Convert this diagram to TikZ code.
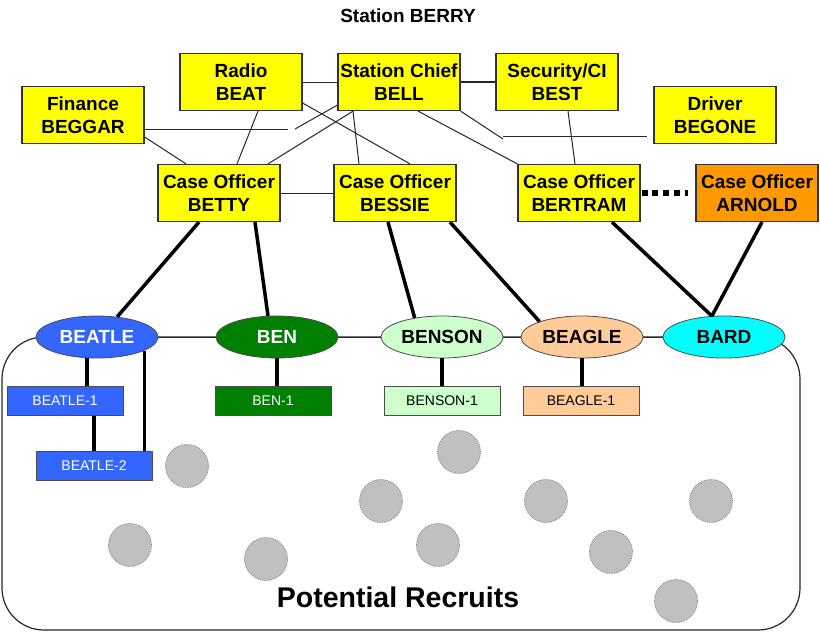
\documentclass[tikz,border=0pt]{standalone}
\usepackage{fontspec}
\setmainfont{Liberation Sans}
\definecolor{officeyellow}{RGB}{255,255,0}
\definecolor{arnoldorange}{RGB}{255,153,0}
\definecolor{beatleblue}{RGB}{51,102,255}
\definecolor{bengreen}{RGB}{0,128,0}
\definecolor{bensongreen}{RGB}{204,255,204}
\definecolor{beaglepeach}{RGB}{255,204,153}
\definecolor{bardcyan}{RGB}{0,255,255}
\definecolor{recruitgray}{RGB}{192,192,192}
\tikzset{
  officebox/.style={shape=rectangle,draw=black!80,line width=1.2pt,fill=officeyellow,
    minimum width=122pt,minimum height=57pt,inner sep=0pt,align=center,
    font=\fontsize{19}{23}\selectfont\bfseries},
  agent/.style={shape=ellipse,draw=black!70,line width=0.8pt,
    minimum width=122pt,minimum height=42pt,inner sep=0pt,
    font=\fontsize{19}{21}\selectfont\bfseries},
  subagent/.style={shape=rectangle,draw=black!70,line width=0.8pt,
    minimum width=116pt,minimum height=29pt,inner sep=0pt,
    font=\fontsize{14}{16}\selectfont},
  recruit/.style={shape=circle,draw=gray,densely dotted,line width=0.8pt,
    fill=recruitgray,minimum size=43pt,inner sep=0pt},
  thinlink/.style={draw=black!85,line width=1pt},
  thicklink/.style={draw=black,line width=3.5pt}
}
\usetikzlibrary{shapes.geometric}
\begin{document}
\begin{tikzpicture}[x=1pt,y=-1pt]
\useasboundingbox (0,0) rectangle (820,632);
\fill[white] (0,0) rectangle (820,632);
% pool of recruits
\draw[black!85,line width=1.2pt,rounded corners=42pt] (2,337) rectangle (800,630);

\node (title) at (408,16) [font=\fontsize{19}{21}\selectfont\bfseries] {Station BERRY};

\node (radio) at (241,82) [officebox] {Radio\\BEAT};
\node (bell) at (399,82) [officebox] {Station Chief\\BELL};
\node (best) at (557,82) [officebox] {Security/CI\\BEST};
\node (beggar) at (83,115) [officebox] {Finance\\BEGGAR};
\node (begone) at (715,115) [officebox] {Driver\\BEGONE};
\node (betty) at (219,193) [officebox] {Case Officer\\BETTY};
\node (bessie) at (395,193) [officebox] {Case Officer\\BESSIE};
\node (bertram) at (579,193) [officebox] {Case Officer\\BERTRAM};
\node (arnold) at (757,193) [officebox,fill=arnoldorange] {Case Officer\\ARNOLD};

\coordinate (fa) at (288,129);
\coordinate (fb) at (295,129);
\coordinate (dk) at (503,139);
\coordinate (dl) at (503,136);
\coordinate (dr) at (647,136);

\draw[thinlink] (radio)--(bell);
\draw[thinlink,line width=1.6pt] (bell)--(best);
\draw[thinlink] ([yshift=-14pt]beggar.east)--(fa);
\draw[thinlink] (fb)--([yshift=6pt]bell.south west);
\draw[thinlink] ([yshift=-22pt]beggar.east)--([xshift=-33pt]betty.north);
\draw[thinlink] ([xshift=17pt]radio.south)--([xshift=18pt]betty.north);
\draw[thinlink] ([xshift=-46pt]bell.south)--([xshift=49pt]betty.north);
\draw[thinlink] ([xshift=-46pt]bell.south)--([xshift=-36pt]bessie.north);
\draw[thinlink] ([yshift=-21pt]radio.east)--([xshift=15pt]bessie.north);
\draw[thinlink] ([xshift=19pt]bell.south)--(bertram.north west);
\draw[thinlink] (bell.south east)--(dk);
\draw[thinlink] (dl)--(dr);
\draw[thinlink] ([xshift=11pt]best.south)--([xshift=-4pt]bertram.north);
\draw[thinlink] (betty)--(bessie);
\draw[line width=6pt,dash pattern=on 6pt off 4.75pt,shorten <=1pt,shorten >=7pt] (bertram)--(arnold);

\node (beatle) at (97,337) [agent,fill=beatleblue,text=white] {BEATLE};
\node (ben) at (277,337) [agent,fill=bengreen,text=white] {BEN};
\node (benson) at (442,337) [agent,fill=bensongreen] {BENSON};
\node (beagle) at (582,337) [agent,fill=beaglepeach] {BEAGLE};
\node (bard) at (724,337) [agent,fill=bardcyan] {BARD};

\draw[thinlink] (beatle)--(ben);
\draw[thinlink] (ben)--(benson);
\draw[thinlink] (benson)--(beagle);
\draw[thinlink] (beagle)--(bard);

\draw[thicklink] ([xshift=-20pt]betty.south)--(beatle.45);
\draw[thicklink] ([xshift=36pt]betty.south)--(ben.113);
\draw[thicklink] ([xshift=-7pt]bessie.south)--(benson.145);
\draw[thicklink] ([xshift=55pt]bessie.south)--(beagle.160);
\draw[thicklink] ([xshift=33pt]bertram.south)--(bard.120);
\draw[thicklink] ([xshift=5pt]arnold.south)--(bard.120);

\node (beatle1) at (65,401) [subagent,fill=beatleblue,text=white] {BEATLE-1};
\node (beatle2) at (94,466) [subagent,fill=beatleblue,text=white] {BEATLE-2};
\node (ben1) at (273,401) [subagent,fill=bengreen,text=white] {BEN-1};
\node (benson1) at (442,401) [subagent,fill=bensongreen] {BENSON-1};
\node (beagle1) at (581,401) [subagent,fill=beaglepeach] {BEAGLE-1};

\draw[thicklink] ([xshift=-10pt]beatle.south)--([xshift=22pt]beatle1.north);
\draw[thicklink] (beatle2.north |- beatle1.south)--(beatle2.north);
\draw[thicklink] (beatle.-16)--(beatle.-16 |- beatle2.north);
\draw[thicklink] (ben.south)--(ben.south |- ben1.north);
\draw[thicklink] (benson.south)--(benson.south |- benson1.north);
\draw[thicklink] (beagle.south)--(beagle.south |- beagle1.north);

\node (r1) at (187,466) [recruit] {};
\node (r2) at (459,452) [recruit] {};
\node (r3) at (381,501) [recruit] {};
\node (r4) at (546,501) [recruit] {};
\node (r5) at (711,501) [recruit] {};
\node (r6) at (130,545) [recruit] {};
\node (r7) at (438,545) [recruit] {};
\node (r8) at (611,552) [recruit] {};
\node (r9) at (266,559) [recruit] {};
\node (r10) at (676,601) [recruit] {};

\node (pool) at (398,597) [font=\fontsize{28.5}{30}\selectfont\bfseries] {Potential Recruits};
\end{tikzpicture}
\end{document}
